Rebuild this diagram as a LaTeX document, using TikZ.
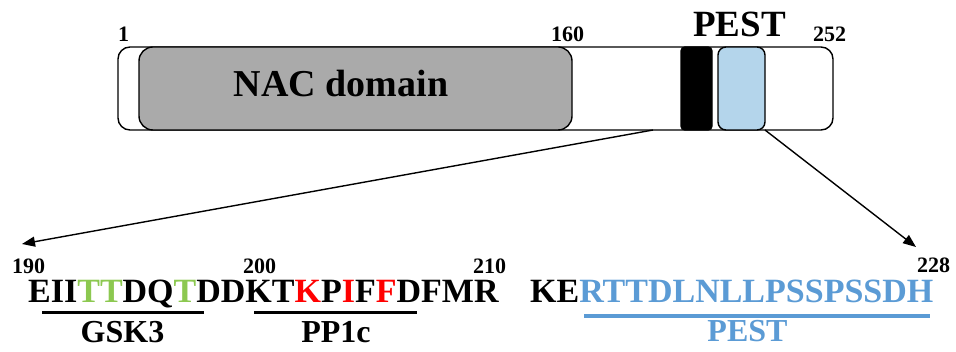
\documentclass[tikz,border=0pt]{standalone}
\usepackage{fontspec}
\setmainfont{Liberation Serif}
\usetikzlibrary{arrows.meta}
\definecolor{gsk}{HTML}{8CC850}
\definecolor{ppred}{HTML}{FF0000}
\definecolor{pestblue}{HTML}{5B9BD5}
\definecolor{pestfill}{HTML}{B4D5EB}
\definecolor{nacgray}{HTML}{AAAAAA}
\tikzset{
  lbl/.style={inner sep=0pt, font=\bfseries\fontsize{#1}{#1}\selectfont},
  num/.style={lbl=22, anchor=base west},
  seq/.style={lbl=34, anchor=base west},
  bar/.style={draw=black, line width=1.4pt},
  uline/.style={line width=3.5pt},
  zoomarrow/.style={line width=1.4pt, -{Triangle[length=13pt,width=10pt]}}
}
\begin{document}
\begin{tikzpicture}[x=1pt,y=-1pt]
\useasboundingbox (0,0) rectangle (956,352);
% protein bar
\draw[bar, fill=white, rounded corners=12pt] (118,47) rectangle (833,130);
\draw[bar, fill=nacgray, rounded corners=14pt] (139,47) rectangle (572,130);
\draw[bar, fill=black, rounded corners=4pt] (681,47) rectangle (712,130);
\draw[bar, fill=pestfill, rounded corners=8pt] (718,47) rectangle (765,130);
\node[lbl=38, anchor=base] (nac) at (341,97) {NAC domain};
\node[num] (n1) at (118,42) {1};
\node[num] (n160) at (551,42) {160};
\node[num] (n252) at (813,42) {252};
\node[lbl=37, anchor=base west] (pesttop) at (693,37) {PEST};
% arrows
\coordinate (a1) at (653,130);
\coordinate (a2) at (765,130);
\coordinate (t1) at (22,244);
\coordinate (t2) at (916,247);
\draw[zoomarrow] (a1) -- (t1);
\draw[zoomarrow] (a2) -- (t2);
% sequence numbers
\node[num] (n190) at (12,274) {190};
\node[num] (n200) at (243,274) {200};
\node[num] (n210) at (473,274) {210};
\node[num] (n228) at (917,273) {228};
% sequences
\node[seq] (s1) at (28,303) {EII\textcolor{gsk}{TT}DQ\textcolor{gsk}{T}DDKT\textcolor{ppred}{K}P\textcolor{ppred}{I}F\textcolor{ppred}{F}DFMR};
\node[seq] (s2) at (530,303) {KE\textcolor{pestblue}{RTTDLNLLPSSPSSDH}};
% underlines
\coordinate (g1) at (42,312.5); \coordinate (g2) at (204,312.5);
\coordinate (p1) at (254,312.5); \coordinate (p2) at (417,312.5);
\coordinate (b1) at (584,316); \coordinate (b2) at (930,316);
\draw[uline] (g1) -- (g2);
\draw[uline] (p1) -- (p2);
\draw[uline, pestblue] (b1) -- (b2);
\node[lbl=32, anchor=base] (gsk3) at (122.5,343) {GSK3};
\node[lbl=32, anchor=base] (pp1c) at (336,343) {PP1c};
\node[lbl=32, anchor=base, text=pestblue] (pestlow) at (747.5,342) {PEST};
\end{tikzpicture}
\end{document}
